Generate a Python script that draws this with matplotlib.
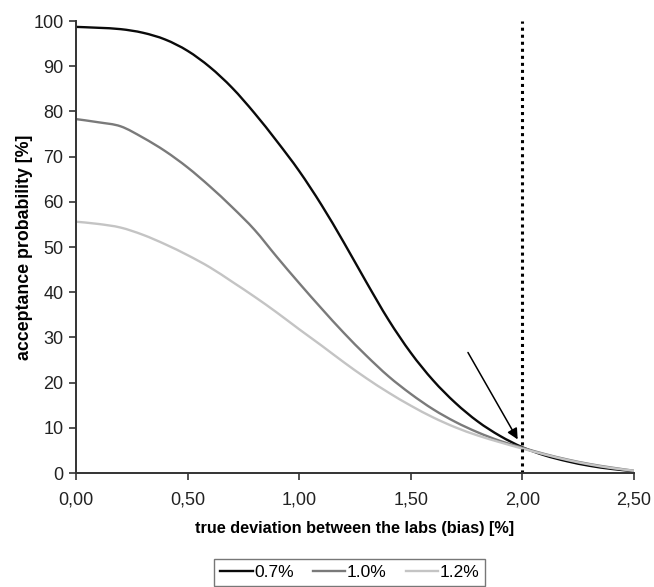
import numpy as np
import matplotlib.pyplot as plt
from matplotlib.path import Path
from matplotlib.patches import PathPatch
from matplotlib.lines import Line2D

plt.rcParams['font.family'] = ['Liberation Sans', 'DejaVu Sans']

# true deviation between the labs (bias) [%]
bias = [0.0, 0.1, 0.2, 0.3, 0.4, 0.5, 0.6, 0.7, 0.8, 0.9, 1.0, 1.1, 1.2,
        1.3, 1.4, 1.5, 1.6, 1.7, 1.8, 1.9, 2.0, 2.1, 2.2, 2.3, 2.4, 2.5]

# acceptance probability [%]
p_07 = [98.7, 98.5, 98.2, 97.4, 95.9, 93.4, 89.8, 85.2, 79.6, 73.4, 66.8, 59.3, 51.0,
        42.3, 33.9, 26.6, 20.5, 15.5, 11.4, 8.2, 5.7, 3.9, 2.6, 1.6, 0.9, 0.4]
p_10 = [78.3, 77.6, 76.7, 74.2, 71.2, 67.6, 63.4, 58.8, 53.8, 47.8, 42.0, 36.4, 31.0,
        26.0, 21.4, 17.5, 14.1, 11.3, 9.0, 7.1, 5.6, 4.2, 3.0, 2.0, 1.2, 0.5]
p_12 = [55.6, 55.1, 54.3, 52.7, 50.6, 48.2, 45.5, 42.3, 39.0, 35.5, 31.8, 28.2, 24.5,
        21.0, 17.8, 14.9, 12.3, 10.1, 8.3, 6.8, 5.4, 4.1, 2.9, 1.9, 1.1, 0.5]

labels = ['0.7%', '1.0%', '1.2%']
colors = ['#0a0a0a', '#7a7a7a', '#c4c4c4']

limit = 2.0
arrow_from = (1.75, 27.2)
arrow_to = (1.985, 6.9)


def smooth_path(x, y):
    # excel-like smoothed line: catmull-rom segments drawn as cubic beziers
    pts = np.column_stack([x, y]).astype(float)
    n = len(pts)
    verts = [pts[0]]
    codes = [Path.MOVETO]
    for i in range(n - 1):
        p0 = pts[max(i - 1, 0)]
        p1 = pts[i]
        p2 = pts[i + 1]
        p3 = pts[min(i + 2, n - 1)]
        verts += [p1 + (p2 - p0) / 6, p2 - (p3 - p1) / 6, p2]
        codes += [Path.CURVE4] * 3
    return Path(verts, codes)


fig = plt.figure(figsize=(6.54, 5.87), dpi=100)
ax = fig.add_axes([0.1162, 0.1942, 0.8532, 0.77])

handles = []
for ys, lab, c in zip([p_07, p_10, p_12], labels, colors):
    ax.add_patch(PathPatch(smooth_path(bias, ys), fill=False, edgecolor=c, lw=1.7))
    handles.append(Line2D([], [], color=c, lw=1.7, label=lab))

ax.plot([limit, limit], [0, 100], color='black', lw=2.2, linestyle=(0, (1, 1.3)))
ax.annotate('', xy=arrow_to, xytext=arrow_from,
            arrowprops=dict(arrowstyle='-|>', color='black', lw=1.1, mutation_scale=16))

ax.set_xlim(0, 2.5)
ax.set_ylim(0, 100)
ax.set_xticks([0, 0.5, 1.0, 1.5, 2.0, 2.5])
ax.set_xticklabels(['0,00', '0,50', '1,00', '1,50', '2,00', '2,50'])
ax.set_yticks(range(0, 101, 10))

ax.spines['top'].set_visible(False)
ax.spines['right'].set_visible(False)
for s in ['left', 'bottom']:
    ax.spines[s].set_color('#333333')
    ax.spines[s].set_linewidth(1.4)
ax.tick_params(direction='out', length=5, width=1.2, color='#333333', labelsize=13,
               labelcolor='#222222')
ax.tick_params(axis='x', pad=8)
ax.tick_params(axis='y', pad=4)

ax.set_xlabel('true deviation between the labs (bias) [%]', fontsize=11.7,
              fontweight='bold', labelpad=9)
ax.set_ylabel('acceptance probability [%]', fontsize=12.8, fontweight='bold', labelpad=0)

fig.legend(handles=handles, loc='upper center', bbox_to_anchor=(0.535, 0.048), ncol=3,
           fontsize=12.5, frameon=True, fancybox=False, edgecolor='#555555',
           handlelength=1.85, handletextpad=0.1, columnspacing=1.1, borderpad=0.35,
           borderaxespad=0)

fig.savefig('out.png', dpi=100)
